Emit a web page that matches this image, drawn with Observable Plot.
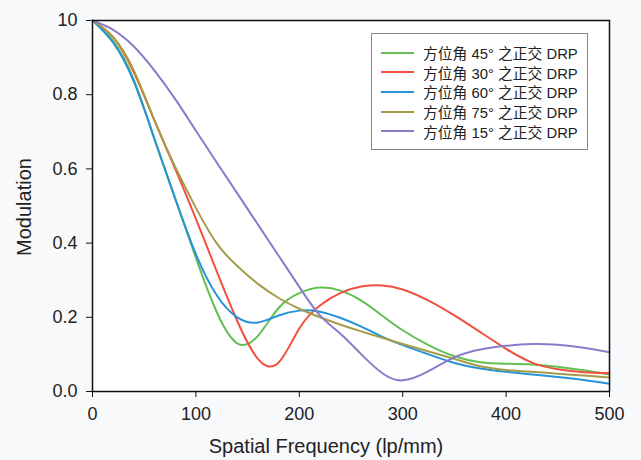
<!DOCTYPE html>
<html>
<head>
<meta charset="utf-8">
<script src="https://cdn.jsdelivr.net/npm/d3@7"></script>
<script src="https://cdn.jsdelivr.net/npm/@observablehq/plot@0.6"></script>
<style>
  html, body { margin: 0; padding: 0; background: #f8f9fb; }
  #wrap { position: relative; width: 641px; height: 460px; }
  #legend {
    position: absolute; left: 371px; top: 33px; width: 217px; height: 117px;
    border: 1px solid #7f8c92; background: #fff; box-sizing: border-box;
    font-family: "Liberation Sans", "Noto Sans CJK SC", sans-serif; font-size: 14.8px; color: #222;
    padding-top: 9px;
  }
  .row { display: flex; align-items: center; height: 19.6px; }
  .sw { width: 33px; height: 2px; margin-left: 9px; margin-right: 9px; }
  .lbl { white-space: nowrap; }
</style>
</head>
<body>
<div id="wrap"></div>
<script>
// ---- data ----
const freq = [0, 20, 40, 60, 80, 100, 120, 140, 160, 180, 200, 220, 240, 260, 280, 300, 325, 350, 375, 400, 425, 450, 475, 500];
const seriesNames = ["方位角 45° 之正交 DRP", "方位角 30° 之正交 DRP", "方位角 60° 之正交 DRP", "方位角 75° 之正交 DRP", "方位角 15° 之正交 DRP"];
const seriesColors = ["#62c052", "#f2503e", "#2693d8", "#a59c48", "#8a7cc8"];
const mod45 = [1.0, 0.945, 0.84, 0.68, 0.52, 0.36, 0.215, 0.13, 0.15, 0.225, 0.265, 0.28, 0.272, 0.245, 0.205, 0.165, 0.125, 0.095, 0.079, 0.075, 0.073, 0.067, 0.057, 0.046];
const mod30 = [1.0, 0.955, 0.86, 0.73, 0.6, 0.465, 0.325, 0.19, 0.088, 0.078, 0.17, 0.232, 0.266, 0.283, 0.286, 0.275, 0.245, 0.205, 0.16, 0.115, 0.078, 0.06, 0.052, 0.05];
const mod60 = [1.0, 0.94, 0.835, 0.68, 0.52, 0.37, 0.26, 0.2, 0.186, 0.205, 0.218, 0.215, 0.198, 0.175, 0.148, 0.125, 0.1, 0.077, 0.062, 0.053, 0.046, 0.039, 0.031, 0.021];
const mod75 = [1.0, 0.955, 0.865, 0.73, 0.605, 0.495, 0.4, 0.338, 0.29, 0.252, 0.223, 0.2, 0.18, 0.162, 0.145, 0.128, 0.108, 0.088, 0.068, 0.058, 0.053, 0.048, 0.043, 0.038];
const mod15 = [1.0, 0.975, 0.93, 0.865, 0.788, 0.703, 0.618, 0.534, 0.45, 0.366, 0.282, 0.205, 0.155, 0.1, 0.05, 0.03, 0.055, 0.092, 0.113, 0.123, 0.128, 0.126, 0.118, 0.106];
const xTicks = [0, 100, 200, 300, 400, 500];
const yTicks = [0, 0.2, 0.4, 0.6, 0.8, 1.0];
const yTickLabels = ["0.0", "0.2", "0.4", "0.6", "0.8", "10"];
const xTitle = "Spatial Frequency (lp/mm)";
const yTitle = "Modulation";

const allSeries = [mod45, mod30, mod60, mod75, mod15];
const rows = [];
allSeries.forEach((vals, s) => vals.forEach((v, i) => rows.push({series: seriesNames[s], f: freq[i], m: v})));

const font = "Liberation Sans, Arial, sans-serif";
const chart = Plot.plot({
  width: 641, height: 460,
  marginLeft: 92, marginRight: 32, marginTop: 20, marginBottom: 69,
  style: {fontFamily: font, fontSize: "18px", background: "transparent", color: "#222", overflow: "visible"},
  x: {domain: [0, 500]},
  y: {domain: [0, 1]},
  color: {domain: seriesNames, range: seriesColors},
  marks: [
    Plot.frame({fill: "white", stroke: null}),
    Plot.axisX({ticks: xTicks, tickSize: 6, tickPadding: 10, stroke: "#111", fontSize: 18, label: null}),
    Plot.axisY({ticks: yTicks, tickSize: 6, tickPadding: 9, stroke: "#111", fontSize: 18,
      tickFormat: d => yTickLabels[yTicks.findIndex(t => Math.abs(t - d) < 1e-9)], label: null}),
    Plot.text([xTitle], {text: d => d, frameAnchor: "bottom", dx: -25, dy: 55, fontSize: 20, lineAnchor: "middle", textAnchor: "middle", fill: "#222"}),
    Plot.text([yTitle], {text: d => d, frameAnchor: "left", rotate: -90, dx: -68, dy: 1, fontSize: 20, lineAnchor: "middle", textAnchor: "middle", fill: "#222"}),
    Plot.line(rows, {x: "f", y: "m", z: "series", stroke: "series", curve: "natural", strokeWidth: 2}),
    Plot.frame({stroke: "#111", strokeWidth: 1.5})
  ]
});
document.getElementById("wrap").appendChild(chart);

// legend (HTML overlay, built from the same arrays)
const leg = document.createElement("div");
leg.id = "legend";
seriesNames.forEach((name, i) => {
  const r = document.createElement("div"); r.className = "row";
  const sw = document.createElement("div"); sw.className = "sw"; sw.style.background = seriesColors[i];
  const lb = document.createElement("div"); lb.className = "lbl";
  lb.textContent = name;
  r.appendChild(sw); r.appendChild(lb); leg.appendChild(r);
});
document.getElementById("wrap").appendChild(leg);
</script>
</body>
</html>
